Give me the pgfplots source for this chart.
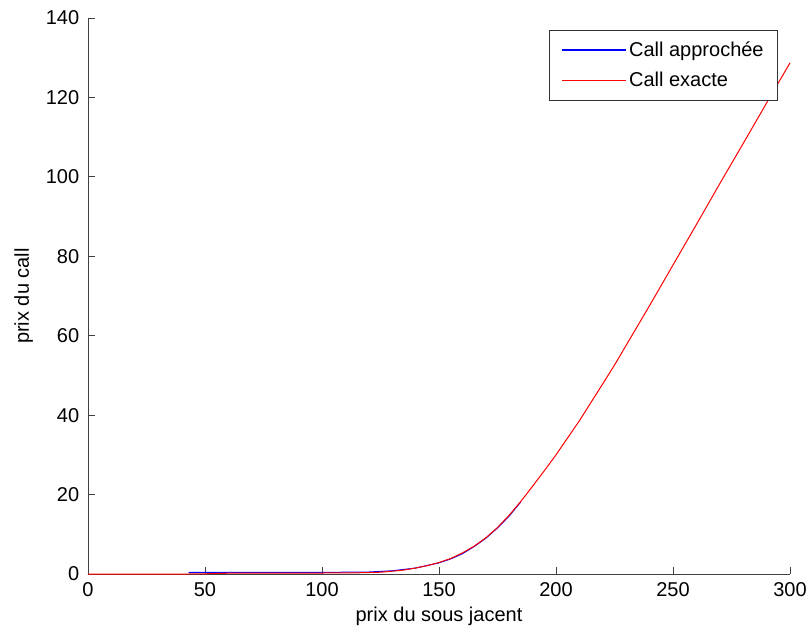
\documentclass[border=0pt]{standalone}
\usepackage{fontspec}
\setmainfont{Liberation Sans}
\usepackage{pgfplots}
\pgfplotsset{compat=1.18}

\begin{document}
\fontsize{20pt}{24pt}\selectfont
\begin{tikzpicture}[x=1pt,y=1pt]
\begin{axis}[
  at={(0,0)}, anchor=origin,
  scale only axis,
  width=702pt, height=556pt,
  xmin=0, xmax=300, ymin=0, ymax=140,
  xtick={0,50,...,300}, ytick={0,20,...,140},
  axis x line*=bottom, axis y line*=left,
  axis line style={black!75, line width=0.8pt, -},
  tick style={black!75, line width=0.8pt},
  tick align=inside,
  major tick length=7pt,
  ticklabel style={font=\fontsize{20pt}{24pt}\selectfont},
  /pgf/number format/assume math mode=true,
  xlabel={prix du sous jacent}, ylabel={prix du call},
  label style={font=\fontsize{20pt}{24pt}\selectfont},
  xlabel style={at={(axis description cs:0.5,0)}, anchor=north, yshift=-26pt},
  ylabel style={at={(axis description cs:0,0.5)}, anchor=south, yshift=48pt},
  xticklabel style={yshift=-2pt},
  yticklabel style={xshift=-2pt},
  legend style={at={(rel axis cs:0.983,0.978)}, anchor=north east,
    draw=black!80, line width=0.8pt, font=\fontsize{20pt}{24pt}\selectfont,
    inner xsep=12pt, inner ysep=9pt, row sep=9pt},
  legend cell align=left,
  legend image code/.code={\draw[#1] (0pt,0.4pt) -- (64pt,0.4pt);},
  clip=false,
]
\addlegendimage{blue, line width=1.5pt}
\addlegendentry{Call approchée}
\addlegendimage{red, line width=1.5pt}
\addlegendentry{Call exacte}
% approximated price
\addplot[blue, line width=1pt, forget plot] coordinates {
  (43,0.4) (51,0.4) (60,0.4) (80,0.4) (100,0.4) (120,0.5) (130,0.8)
  (140,1.5) (150,2.8) (155,3.8) (160,5.1) (165,6.9) (170,9.0)
  (175,11.6) (180,14.6) (185,18.2)
};
% exact price
\addplot[red, line width=1pt, forget plot] coordinates {
  (0,0) (43,0) (50,0.05) (60,0.2) (80,0.2) (100,0.25) (115,0.3) (125,0.45)
  (130,0.7) (135,1.0) (140,1.5) (145,2.1) (150,2.9) (155,3.9) (160,5.3)
  (165,7.0) (170,9.1) (175,11.7) (180,14.8) (185,18.3) (190,22.1) (195,26.0)
  (200,30.0) (210,38.6) (220,47.9) (225,52.6) (230,57.6) (240,67.6)
  (250,77.8) (260,88.0) (270,98.3) (280,108.4) (290,118.6) (300,128.7)
};
\end{axis}
\pgfresetboundingbox
\useasboundingbox (-88,-61) rectangle (721,574);
\end{tikzpicture}
\end{document}
